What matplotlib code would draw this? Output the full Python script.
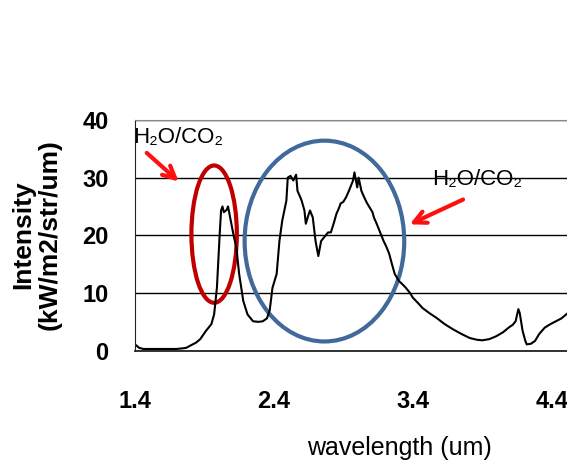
import numpy as np
import matplotlib.pyplot as plt
from matplotlib.patches import Ellipse

# Emission spectrum
wavelength = [1.41, 1.43, 1.46, 1.50, 1.55, 1.60, 1.65, 1.70, 1.74, 1.77,
              1.80, 1.84, 1.87, 1.91, 1.95, 1.97, 1.99, 2.01, 2.02, 2.03,
              2.04, 2.06, 2.07, 2.09, 2.11, 2.13, 2.15, 2.18, 2.21, 2.25,
              2.29, 2.32, 2.35, 2.37, 2.39, 2.42, 2.44, 2.46, 2.49, 2.50,
              2.52, 2.54, 2.56, 2.57, 2.59, 2.60, 2.62, 2.63, 2.65, 2.66,
              2.68, 2.70, 2.72, 2.74, 2.76, 2.78, 2.79, 2.81, 2.83, 2.85,
              2.87, 2.88, 2.90, 2.92, 2.94, 2.95, 2.97, 2.98, 3.00, 3.01,
              3.03, 3.05, 3.07, 3.09, 3.11, 3.12, 3.14, 3.16, 3.18, 3.19,
              3.21, 3.23, 3.25, 3.27, 3.30, 3.33, 3.35, 3.38, 3.40, 3.44,
              3.47, 3.52, 3.57, 3.63, 3.69, 3.75, 3.81, 3.86, 3.90, 3.95,
              4.00, 4.05, 4.09, 4.12, 4.14, 4.16, 4.17, 4.19, 4.21, 4.22,
              4.25, 4.28, 4.31, 4.35, 4.39, 4.43, 4.47, 4.51]
intensity = [0.9, 0.5, 0.3, 0.3, 0.3, 0.3, 0.3, 0.3, 0.4, 0.5,
             0.9, 1.4, 2.0, 3.4, 4.6, 6.3, 10.9, 20.2, 24.3, 25.0,
             24.0, 24.4, 25.0, 22.5, 20.0, 17.9, 13.3, 8.6, 6.3, 5.1,
             5.0, 5.1, 5.6, 7.0, 10.9, 13.3, 19.0, 22.5, 26.0, 30.0,
             30.3, 29.5, 30.5, 27.7, 26.6, 26.0, 24.3, 22.0, 23.6, 24.3,
             23.1, 19.0, 16.4, 19.0, 19.6, 20.2, 20.5, 20.5, 22.0, 23.7,
             24.8, 25.5, 25.8, 26.6, 27.7, 28.3, 29.5, 30.9, 28.3, 30.0,
             27.7, 26.6, 25.6, 24.8, 24.0, 23.1, 22.0, 20.8, 19.6, 19.0,
             18.0, 16.8, 15.0, 13.3, 12.1, 11.4, 10.9, 10.0, 9.2, 8.2,
             7.4, 6.5, 5.7, 4.6, 3.7, 2.9, 2.2, 1.9, 1.8, 2.0,
             2.5, 3.2, 4.0, 4.5, 5.1, 7.2, 6.5, 3.5, 1.7, 1.1,
             1.2, 1.7, 2.9, 4.0, 4.6, 5.1, 5.6, 6.4]

yticks = [0, 10, 20, 30, 40]
xticks = [1.4, 2.4, 3.4, 4.4]
label = 'H\u2082O/CO\u2082'

fig = plt.figure(figsize=(5.67, 4.72), dpi=100)
ax = fig.add_axes([0.238, 0.257, 0.762, 0.489])

ax.plot(wavelength, intensity, color='black', lw=1.5)

ax.set_xlim(1.4, 4.51)
ax.set_ylim(0, 40)
ax.set_yticks(yticks)
ax.set_xticks(xticks)
ax.set_yticklabels([str(v) for v in yticks], fontsize=17, fontweight='bold',
                   family='Liberation Sans')
ax.set_xticklabels([str(v) for v in xticks], fontsize=17, fontweight='bold',
                   family='Liberation Sans')
ax.tick_params(axis='y', length=0, pad=19)
ax.tick_params(axis='x', length=0, pad=28)

ax.grid(axis='y', color='black', lw=1.0)
ax.set_axisbelow(True)
ax.spines['top'].set_color('#888888')
ax.spines['right'].set_visible(False)
ax.spines['left'].set_color('#222222')
ax.spines['bottom'].set_color('#222222')
ax.spines['bottom'].set_linewidth(1.3)

# circled regions
ax.add_patch(Ellipse((1.97, 20.2), 0.327, 23.8, fill=False,
                     edgecolor='#C00000', lw=3, clip_on=False))
ax.add_patch(Ellipse((2.764, 19.0), 1.149, 34.8, fill=False,
                     edgecolor='#41699A', lw=3, clip_on=False))

# labels with arrows
ax.text(1.39, 37.0, label, fontsize=16, family='Liberation Sans',
        ha='left', va='center')
ax.annotate('', xy=(1.73, 29.0), xytext=(1.47, 34.6),
            arrowprops=dict(arrowstyle='->', color='#FF1010', lw=3,
                            mutation_scale=22))
ax.text(3.86, 29.6, label, fontsize=16, family='Liberation Sans',
        ha='center', va='center')
ax.annotate('', xy=(3.36, 21.7), xytext=(3.78, 26.4),
            arrowprops=dict(arrowstyle='->', color='#FF1010', lw=3,
                            mutation_scale=22))

fig.text(0.041, 0.502, 'Intensity', rotation=90, fontsize=19,
         fontweight='bold', family='Liberation Sans', ha='center', va='center')
fig.text(0.087, 0.504, '(kW/m2/str/um)', rotation=90, fontsize=19,
         fontweight='bold', family='Liberation Sans', ha='center', va='center')
fig.text(0.705, 0.05, 'wavelength (um)', fontsize=18,
         family='Liberation Sans', ha='center', va='center')

fig.savefig('out.png', dpi=100)
